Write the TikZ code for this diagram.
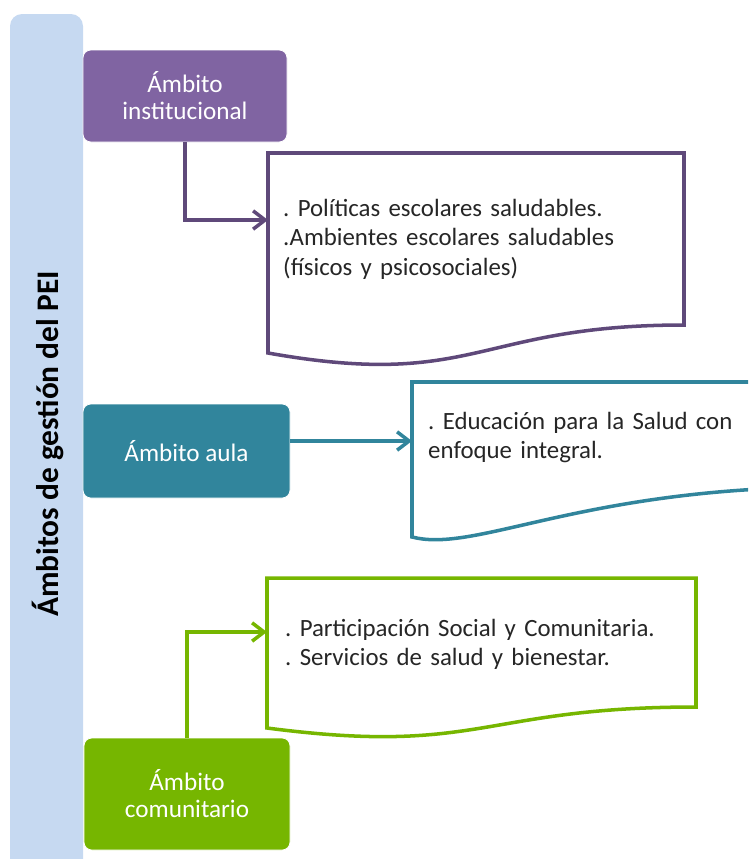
\documentclass[tikz,border=0pt]{standalone}
\usepackage{fontspec}
\setmainfont{Carlito}
\frenchspacing
\usetikzlibrary{arrows.meta}
\definecolor{barra}{HTML}{C6D9F1}
\definecolor{morado}{HTML}{8064A2}
\definecolor{moradol}{HTML}{5F497A}
\definecolor{azul}{HTML}{31859C}
\definecolor{verde}{HTML}{76B600}
\tikzset{
  caja/.style={rounded corners=0.24cm, draw=white, line width=0.6pt, text=white,
    align=center, inner sep=0pt, font=\fontsize{21.5}{23}\selectfont},
  hoja/.style={line width=3pt, fill=white},
  texto/.style={anchor=base west, text width=14cm, inner sep=0pt, align=left,
    font=\fontsize{21.2}{25.5}\selectfont, text=black!85},
  flecha/.style={line width=3pt, -{Straight Barb[length=0.36cm,width=0.55cm]}},
}
\begin{document}
\begin{tikzpicture}[x=0.03cm, y=-0.03cm]
   \useasboundingbox (0,0) rectangle (748,859);
   \clip (0,0) rectangle (748,859);
   %barra
   \fill[barra, rounded corners=0.36cm] (10,880) -- (10,14) -- (83,14) -- (83,880) -- cycle;
   \node[rotate=90, font=\bfseries\fontsize{26.8}{30}\selectfont] (titulo) at (48,444) {Ámbitos de gestión del PEI};
   %ambito institucional
   \node[caja, fill=morado, minimum width=6.12cm, minimum height=2.76cm] (inst) at (185,96) {Ámbito\\institucional};
   \draw[hoja, draw=moradol] (268,153) -- (684,153) -- (684,325) .. controls (476,325) and (476,390) .. (268,353) -- cycle;
   \node[texto] (tinst) at (283,216) {. Políticas escolares saludables.\\.Ambientes escolares saludables\\(físicos y psicosociales)};
   \coordinate (pinst) at (268,220);
   \draw[flecha, moradol] (inst.south) |- (pinst);
   %ambito aula
   \node[caja, fill=azul, minimum width=6.21cm, minimum height=2.82cm] (aula) at (186.5,451) {Ámbito aula};
   \draw[hoja, draw=azul] (760,382) -- (412,382) -- (412,537) .. controls (470,552) and (560,500) .. (760,489) -- cycle;
   \node[texto] (taula) at (428,429) {. Educación para la Salud con\\enfoque integral.};
   \coordinate (paula) at (412,441);
   \draw[flecha, azul] (aula.east |- paula) -- (paula);
   %ambito comunitario
   \node[caja, fill=verde, minimum width=6.18cm, minimum height=3.36cm] (com) at (187,794) {Ámbito\\comunitario};
   \draw[hoja, draw=verde] (267,578) -- (696,578) -- (696,707) .. controls (481.5,707) and (481.5,756) .. (267,728) -- cycle;
   \node[texto] (tcom) at (285,636) {. Participación Social y Comunitaria.\\. Servicios de salud y bienestar.};
   \coordinate (pcom) at (267,632);
   \draw[flecha, verde] (com.north) |- (pcom);
\end{tikzpicture}
\end{document}
